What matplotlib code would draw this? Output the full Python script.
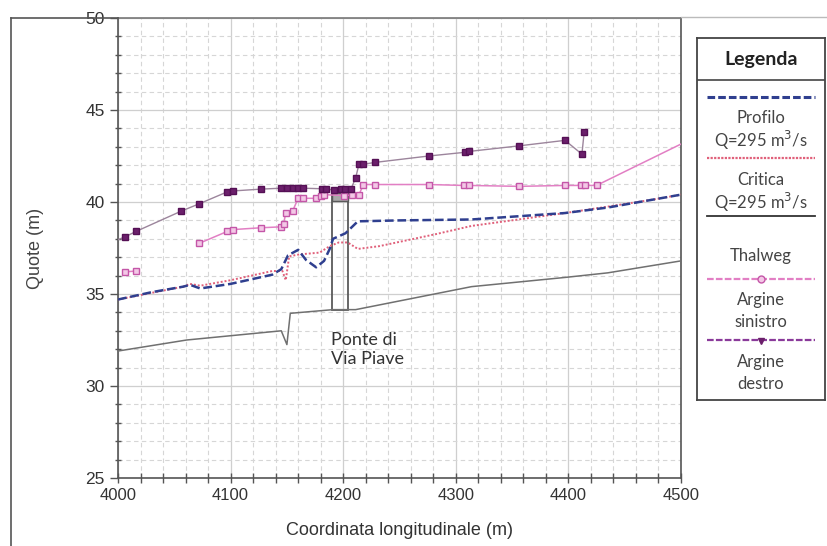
import numpy as np
import matplotlib.pyplot as plt
from matplotlib.lines import Line2D
from matplotlib.patches import Rectangle
from matplotlib.ticker import MultipleLocator

# profilo di moto permanente Q=295 m3/s
profilo_x = [4000, 4030, 4058, 4064, 4073, 4100, 4137, 4145, 4151, 4160, 4167, 4176, 4183, 4188,
             4191, 4202, 4213, 4250, 4314, 4397, 4435, 4477, 4500]
profilo_y = [34.7, 35.1, 35.4, 35.5, 35.3, 35.55, 36.05, 36.35, 37.1, 37.4, 36.85, 36.45, 36.8, 37.45,
             38.0, 38.3, 38.95, 39.0, 39.05, 39.4, 39.7, 40.15, 40.4]

# profilo di stato critico
critica_x = [4000, 4058, 4064, 4073, 4100, 4137, 4146, 4149, 4152, 4161, 4179, 4188, 4196, 4204,
             4213, 4232, 4282, 4314, 4397, 4435, 4477, 4500]
critica_y = [34.7, 35.4, 35.55, 35.45, 35.75, 36.25, 36.25, 35.75, 37.05, 37.15, 37.25, 37.6, 37.8, 37.8,
             37.45, 37.6, 38.25, 38.7, 39.4, 39.75, 40.15, 40.4]

# fondo alveo
thalweg_x = [4000, 4061, 4145, 4150, 4153, 4191, 4211, 4314, 4397, 4435, 4500]
thalweg_y = [31.9, 32.5, 33.0, 32.25, 33.95, 34.15, 34.15, 35.4, 35.9, 36.15, 36.8]

# argine sinistro (nan = interruzione)
sinistro_x = [4006, 4016, np.nan, 4072, 4097, 4102, 4127, 4145, 4147, 4149, 4155, 4160, 4164, 4176,
              4180, 4183, 4201, 4208, 4214, 4218, 4228, 4276, 4307, 4312, 4356, 4397, 4411, 4415,
              4425, 4500]
sinistro_y = [36.2, 36.25, np.nan, 37.75, 38.4, 38.5, 38.6, 38.65, 38.8, 39.4, 39.5, 40.2, 40.2, 40.2,
              40.3, 40.4, 40.35, 40.38, 40.4, 40.95, 40.95, 40.95, 40.9, 40.9, 40.85, 40.9, 40.9, 40.9,
              40.9, 43.15]

# argine destro
destro_x = [4000, 4006, 4016, 4056, 4072, 4097, 4102, 4127, 4145, 4150, 4155, 4160, 4164, 4181, 4185,
            4192, 4198, 4202, 4207, 4211, 4214, 4218, 4228, 4276, 4308, 4312, 4356, 4397, 4412, 4414]
destro_y = [37.95, 38.1, 38.4, 39.5, 39.9, 40.55, 40.6, 40.7, 40.75, 40.75, 40.75, 40.75, 40.75, 40.72,
            40.7, 40.65, 40.7, 40.7, 40.72, 41.3, 42.05, 42.05, 42.15, 42.5, 42.7, 42.75, 43.05, 43.35,
            42.6, 43.8]

# ponte di via Piave
ponte_x = [4190, 4204]
ponte_fondo = 34.15
ponte_impalcato = [40.05, 40.5]

c_prof = '#2f3f8f'
c_crit = '#e0607a'
c_thal = '#707070'
c_sin = '#e27fc4'
c_des = '#6b1f6b'

fig = plt.figure(figsize=(8.28, 5.46), dpi=100)
ax = fig.add_axes([118/828, 1-478/546, 563/828, 460/546])

ax.set_xlim(4000, 4500)
ax.set_ylim(25, 50)
ax.xaxis.set_major_locator(MultipleLocator(100))
ax.xaxis.set_minor_locator(MultipleLocator(20))
ax.yaxis.set_major_locator(MultipleLocator(5))
ax.yaxis.set_minor_locator(MultipleLocator(1))
ax.grid(which='major', color='#cfcfcf', lw=0.9, ls='-')
ax.grid(which='minor', color='#d6d6d6', lw=0.8, ls=(0, (4, 3)))
ax.set_axisbelow(True)
for s in ax.spines.values():
    s.set_color('#555555')
    s.set_linewidth(1.2)
ax.spines['top'].set_color('#777777')
ax.tick_params(which='major', direction='out', length=6, color='#555555', width=1)
ax.tick_params(which='minor', direction='inout', length=5, color='#555555', width=1)
ax.tick_params(axis='x', which='both', direction='inout', length=7)

# bridge
ax.add_patch(Rectangle((ponte_x[0], ponte_fondo), ponte_x[1]-ponte_x[0], ponte_impalcato[1]-ponte_fondo,
                       fill=False, ec='#5a5a5a', lw=1.3, zorder=2))
ax.add_patch(Rectangle((ponte_x[0], ponte_impalcato[0]), ponte_x[1]-ponte_x[0],
                       ponte_impalcato[1]-ponte_impalcato[0], fc='#a9a9a9', ec='#5a5a5a', lw=1.0, zorder=2))

ax.plot(thalweg_x, thalweg_y, color=c_thal, lw=1.1, zorder=3)
ax.plot(critica_x, critica_y, color=c_crit, lw=1.4, ls=(0, (1, 1)), zorder=3)
ax.plot(profilo_x, profilo_y, color=c_prof, lw=1.8, ls=(0, (3.5, 1.5)), zorder=4)
ax.plot(sinistro_x, sinistro_y, color=c_sin, lw=1.1, marker='s', ms=3.8, mfc='#f3c8e6', mec='#c456a8',
        mew=1.0, markevery=list(range(0, len(sinistro_x)-1)), zorder=5)
ax.plot(destro_x, destro_y, color='#9c859c', lw=1.0, marker='s', ms=3.8, mfc=c_des, mec='#551055',
        markevery=list(range(1, len(destro_x))), zorder=5)

ax.text(4189, 32.95, 'Ponte di\nVia Piave', fontsize=13, family=['Lato', 'DejaVu Sans'],
        color='#333333', va='top', ha='left', linespacing=1.25, zorder=6)

for lab in ax.get_yticklabels():
    lab.set_fontsize(12.5)
    lab.set_family(['Liberation Sans', 'DejaVu Sans'])
    lab.set_color('#333333')
for lab in ax.get_xticklabels():
    lab.set_fontsize(12)
    lab.set_family(['Liberation Sans Narrow', 'Liberation Sans', 'DejaVu Sans'])
    lab.set_color('#333333')
ax.set_xlabel('Coordinata longitudinale (m)', fontsize=13, color='#333333',
              family=['Liberation Sans Narrow', 'Liberation Sans', 'DejaVu Sans'], labelpad=14)
ax.set_ylabel('Quote (m)', fontsize=13, color='#444444', family=['Liberation Sans', 'DejaVu Sans'],
              labelpad=30)

# outer frame lines
fig.add_artist(Line2D([11/828, 11/828], [0, 1-18/546], color='#555555', lw=1.2))
fig.add_artist(Line2D([11/828, 118/828], [1-18/546, 1-18/546], color='#555555', lw=1.2))
fig.add_artist(Line2D([681/828, 1], [1-17/546, 1-17/546], color='#bbbbbb', lw=1.0))

# legend box
lax = fig.add_axes([697/828, 1-400/546, 128/828, 362/546])
lax.set_xlim(0, 128)
lax.set_ylim(362, 0)
lax.set_xticks([])
lax.set_yticks([])
for s in lax.spines.values():
    s.set_color('#444444')
    s.set_linewidth(1.3)
lax.axhline(42, color='#444444', lw=1.2)
lf = ['Lato', 'DejaVu Sans']
lax.text(64, 21, 'Legenda', ha='center', va='center', fontsize=14, fontweight='bold', family=lf,
         color='#222222')
lax.plot([10, 118], [59, 59], color=c_prof, lw=2.2, ls=(0, (2.5, 1)))
lax.text(64, 80, 'Profilo', ha='center', va='center', fontsize=12, family=lf, color='#444444')
lax.text(64, 102, 'Q=295 m$^3$/s', ha='center', va='center', fontsize=12, family=lf, color='#444444')
lax.plot([10, 118], [120, 120], color=c_crit, lw=1.6, ls=(0, (1, 0.6)))
lax.text(64, 142, 'Critica', ha='center', va='center', fontsize=12, family=lf, color='#444444')
lax.text(64, 164, 'Q=295 m$^3$/s', ha='center', va='center', fontsize=12, family=lf, color='#444444')
lax.plot([10, 118], [178, 178], color='#333333', lw=1.3)
lax.text(64, 218, 'Thalweg', ha='center', va='center', fontsize=12, family=lf, color='#444444')
lax.plot([10, 118], [241, 241], color=c_sin, lw=1.6, ls=(0, (3, 1)))
lax.plot([64], [241], marker='o', ms=5, mfc='#f3c8e6', mec='#c456a8')
lax.text(64, 262, 'Argine', ha='center', va='center', fontsize=12, family=lf, color='#444444')
lax.text(64, 284, 'sinistro', ha='center', va='center', fontsize=12, family=lf, color='#444444')
lax.plot([10, 118], [302, 302], color='#8a3a9a', lw=1.6, ls=(0, (3, 1)))
lax.plot([64], [303], marker='v', ms=5, color=c_des)
lax.text(64, 324, 'Argine', ha='center', va='center', fontsize=12, family=lf, color='#444444')
lax.text(64, 346, 'destro', ha='center', va='center', fontsize=12, family=lf, color='#444444')

fig.savefig('out.png', dpi=100)
